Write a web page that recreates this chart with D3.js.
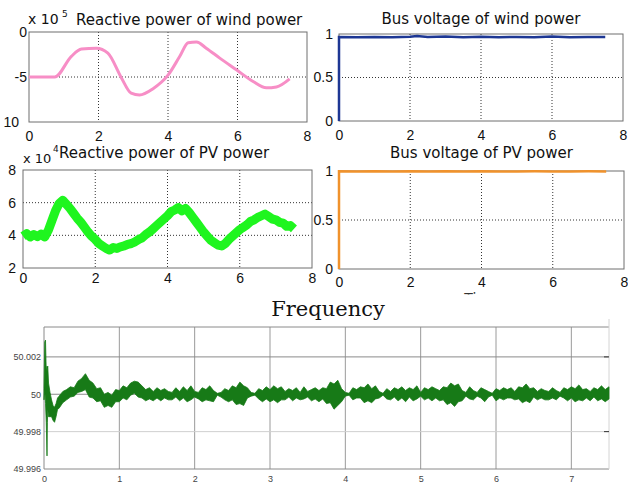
<!DOCTYPE html>
<html lang="en">
<head>
<meta charset="UTF-8">
<title>Wind / PV power and frequency</title>
<script src="https://d3js.org/d3.v7.min.js"></script>
<style>
  html, body { margin: 0; background: #fff; }
  svg { display: block; font-family: "DejaVu Sans", sans-serif; }
  .frame { fill: none; stroke: #6e6e6e; stroke-width: 1; }
  .dotgrid { stroke: #333; stroke-width: 1; stroke-dasharray: 1, 2; }
  .ml-axis text { font-size: 14px; fill: #111; }
  .fr-axis text { font-size: 9px; fill: #444; }
  .title { font-size: 15px; fill: #111; }
</style>
</head>
<body>
<svg id="chart" width="628" height="488"></svg>
<script>
// ---------- data ----------
// reactive power of wind power (x 10^5)
const windQTime = [0, 0.74, 1.22, 1.51, 1.94, 2.27, 2.66, 2.94, 3.18, 3.57, 4.0, 4.34, 4.58, 4.82, 5.1, 5.49, 5.97, 6.45, 6.83, 7.12, 7.5];
const windQ = [-5, -5, -2.7, -1.9, -1.8, -2.35, -5.1, -6.8, -7.0, -6.3, -4.8, -2.7, -1.2, -1.1, -1.8, -2.9, -4.2, -5.5, -6.2, -6.1, -5.2];

// bus voltage of wind power (p.u.)
const windBusTime = [0, 0, 0.5, 1, 1.5, 2, 2.2, 2.5, 3, 3.5, 4, 4.5, 5, 5.5, 6, 6.5, 7, 7.5];
const windBusV = [0, 0.965, 0.963, 0.966, 0.962, 0.968, 0.976, 0.966, 0.971, 0.964, 0.968, 0.962, 0.966, 0.964, 0.971, 0.963, 0.966, 0.965];

// reactive power of PV power (x 10^4), sampled every 0.1 s
const pvQStep = 0.1;
const pvQ = [3.95, 4.1, 3.9, 4.05, 3.92, 4.08, 3.9, 4.3, 4.9, 5.5,
             5.95, 6.15, 5.9, 5.65, 5.35, 5.05, 4.8, 4.5, 4.2, 3.95,
             3.75, 3.5, 3.35, 3.2, 3.1, 3.25, 3.2, 3.3, 3.35, 3.45,
             3.5, 3.6, 3.75, 3.85, 4.05, 4.2, 4.4, 4.6, 4.8, 5.0,
             5.2, 5.45, 5.55, 5.7, 5.5, 5.65, 5.4, 5.1, 4.8, 4.5,
             4.2, 3.95, 3.7, 3.55, 3.4, 3.35, 3.5, 3.75, 3.95, 4.15,
             4.35, 4.5, 4.65, 4.85, 4.95, 5.1, 5.2, 5.3, 5.15, 5.0,
             4.95, 4.8, 4.75, 4.55, 4.6, 4.4];

// bus voltage of PV power (p.u.)
const pvBusTime = [0, 0, 0.5, 1, 1.5, 2, 2.5, 3, 3.5, 4, 4.5, 5, 5.5, 6, 6.5, 7, 7.5];
const pvBusV = [0, 0.998, 0.996, 0.998, 0.995, 0.997, 0.994, 0.997, 0.995, 0.998, 0.994, 0.996, 0.997, 0.994, 0.996, 0.997, 0.996];

// frequency: upper / lower envelope of the noisy trace, deviation from 50 Hz in mHz
const freqEarlyTime = [0, 0.01, 0.02, 0.03, 0.04, 0.045, 0.05, 0.06, 0.08, 0.1, 0.12, 0.14, 0.16, 0.18];
const freqEarlyHi = [0.3, 2.8, 2.9, 1.2, 1.5, 1.4, 1.5, 0.6, 0.1, -0.3, -0.6, -0.7, -0.5, -0.2];
const freqEarlyLo = [-0.3, 0.3, -0.5, -1.5, -3.3, -1.5, -0.8, -1.2, -1.2, -1.2, -1.4, -1.5, -1.2, -0.8];
const freqStart = 0.2, freqStep = 0.05;
const freqHi = [-0.1, 0.15, 0.25, 0.4, 0.35, 0.7, 0.85, 1.1, 0.75, 0.6,
                0.3, 0.35, 0.0, 0.1, -0.05, 0.25, 0.2, 0.45, 0.35, 0.6,
                0.7, 0.65, 0.45, 0.25, 0.35, 0.15, 0.35, 0.2, 0.3, 0.15,
                0.1, 0.35, 0.15, 0.4, 0.2, 0.45, 0.15, 0.1, 0.35, 0.25,
                0.45, 0.2, 0.05, 0.1, 0.3, 0.2, 0.45, 0.35, 0.65, 0.45,
                0.35, 0.1, 0.05, 0.3, 0.2, 0.4, 0.25, 0.45, 0.3, 0.4,
                0.15, 0.3, 0.2, 0.35, 0.1, 0.4, 0.15, 0.25, 0.35, 0.2,
                0.35, 0.3, 0.65, 0.55, 0.75, 0.3, 0.1, 0.05, 0.35, 0.25,
                0.4, 0.35, 0.55, 0.3, 0.45, 0.15, 0.05, 0.3, 0.15, 0.35,
                0.25, 0.4, 0.2, 0.35, 0.25, 0.45, 0.1, 0.35, 0.25, 0.4,
                0.3, 0.2, 0.4, 0.35, 0.6, 0.45, 0.55, 0.2, 0.1, 0.4,
                0.2, 0.1, 0.35, 0.25, 0.15, 0.05, 0.3, 0.2, 0.35, 0.25,
                0.35, 0.15, 0.4, 0.35, 0.55, 0.3, 0.35, 0.15, 0.3, 0.2,
                0.15, 0.35, 0.2, 0.1, 0.35, 0.25, 0.4, 0.3, 0.5, 0.25,
                0.3, 0.15, 0.35, 0.25, 0.45, 0.25, 0.4];
const freqLo = [-0.75, -0.45, -0.3, -0.15, -0.1, 0.1, 0.15, 0.25, -0.15, -0.2,
                -0.4, -0.35, -0.7, -0.6, -0.7, -0.4, -0.4, -0.2, -0.3, -0.05,
                0.05, -0.15, -0.2, -0.35, -0.25, -0.35, -0.2, -0.35, -0.2, -0.3,
                -0.3, -0.15, -0.35, -0.2, -0.4, -0.3, -0.15, -0.25, -0.4, -0.3,
                -0.35, -0.4, -0.05, -0.15, -0.3, -0.4, -0.3, -0.55, -0.5, -0.6,
                -0.2, -0.1, -0.05, -0.25, -0.4, -0.25, -0.4, -0.3, -0.45, -0.3,
                -0.3, -0.15, -0.35, -0.2, -0.3, -0.25, -0.15, -0.35, -0.25, -0.4,
                -0.25, -0.5, -0.45, -0.8, -0.6, -0.4, -0.1, -0.05, -0.3, -0.2,
                -0.2, -0.45, -0.35, -0.45, -0.25, -0.2, -0.05, -0.25, -0.3, -0.15,
                -0.35, -0.2, -0.4, -0.15, -0.35, -0.25, -0.1, -0.3, -0.2, -0.35,
                -0.2, -0.35, -0.3, -0.55, -0.45, -0.65, -0.4, -0.35, -0.1, -0.25,
                -0.3, -0.1, -0.2, -0.4, -0.15, -0.05, -0.35, -0.2, -0.3, -0.2,
                -0.2, -0.3, -0.25, -0.45, -0.35, -0.45, -0.15, -0.3, -0.2, -0.3,
                -0.3, -0.2, -0.3, -0.1, -0.2, -0.35, -0.2, -0.4, -0.3, -0.35,
                -0.2, -0.35, -0.15, -0.35, -0.25, -0.4, -0.25];

const freqTicks = [49.996, 49.998, 50, 50.002];
const freqTickLabels = ["49.996", "49.998", "50", "50.002"];

// ---------- drawing ----------
const svg = d3.select("#chart");

// a small MATLAB-style subplot: dotted grid, grey frame, ticks labels outside
function matlabPanel(box, xDomain, yDomain, xTicks, yTicks, xGrid, yGrid, xPad, yPad, yFormat) {
    const x = d3.scaleLinear().domain(xDomain).range([box.left, box.right]);
    const y = d3.scaleLinear().domain(yDomain).range([box.bottom, box.top]);
    const g = svg.append("g");

    g.selectAll(".vgrid").data(xGrid).join("line")
        .attr("class", "dotgrid")
        .attr("x1", d => x(d)).attr("x2", d => x(d))
        .attr("y1", box.top).attr("y2", box.bottom);
    g.selectAll(".hgrid").data(yGrid).join("line")
        .attr("class", "dotgrid")
        .attr("x1", box.left).attr("x2", box.right)
        .attr("y1", d => y(d)).attr("y2", d => y(d));

    const xa = g.append("g").attr("class", "ml-axis")
        .attr("transform", `translate(0,${box.bottom})`)
        .call(d3.axisBottom(x).tickValues(xTicks).tickSize(0).tickPadding(xPad).tickFormat(d => String(d)));
    const ya = g.append("g").attr("class", "ml-axis")
        .attr("transform", `translate(${box.left},0)`)
        .call(d3.axisLeft(y).tickValues(yTicks).tickSize(0).tickPadding(yPad).tickFormat(yFormat || (d => String(d))));
    xa.select(".domain").remove();
    ya.select(".domain").remove();
    xa.selectAll("text").attr("font-family", null);
    ya.selectAll("text").attr("font-family", null);

    return { x, y, g, ya };
}

function frame(p, box) {
    p.g.append("rect").attr("class", "frame")
        .attr("x", box.left).attr("y", box.top)
        .attr("width", box.right - box.left).attr("height", box.bottom - box.top);
}

// --- reactive power of wind power ---
const box1 = { left: 29, right: 307, top: 32, bottom: 122 };
const p1 = matlabPanel(box1, [0, 8], [-10, 0], [0, 2, 4, 6, 8], [-10, -5, 0], [2, 4, 6], [-5], 9, 2,
    d => d === -10 ? "10" : String(d));
p1.ya.selectAll(".tick").filter(d => d === -10).select("text").attr("dx", -8);
frame(p1, box1);
p1.g.append("path")
    .datum(windQ)
    .attr("fill", "none")
    .attr("stroke", "#f78ec6")
    .attr("stroke-width", 3)
    .attr("stroke-linejoin", "round")
    .attr("d", d3.line().x((d, i) => p1.x(windQTime[i])).y(d => p1.y(d)).curve(d3.curveMonotoneX));

// --- bus voltage of wind power ---
const box2 = { left: 339, right: 623, top: 34, bottom: 121 };
const p2 = matlabPanel(box2, [0, 8], [0, 1], [0, 2, 4, 6, 8], [0, 0.5, 1], [2, 4, 6], [0.5], 9, 6);
frame(p2, box2);
p2.g.append("path")
    .datum(windBusV)
    .attr("fill", "none")
    .attr("stroke", "#1d3794")
    .attr("stroke-width", 2.5)
    .attr("d", d3.line().x((d, i) => p2.x(windBusTime[i])).y(d => p2.y(d)));

// --- reactive power of PV power ---
const box3 = { left: 23, right: 312, top: 170, bottom: 268 };
const p3 = matlabPanel(box3, [0, 8], [2, 8], [0, 2, 4, 6, 8], [2, 4, 6, 8], [2, 4, 6], [4, 6], 5, 7);
frame(p3, box3);
p3.g.append("path")
    .datum(pvQ)
    .attr("fill", "none")
    .attr("stroke", "#1ff51f")
    .attr("stroke-width", 9)
    .attr("stroke-linejoin", "round")
    .attr("d", d3.line().x((d, i) => p3.x(i * pvQStep)).y(d => p3.y(d)));

// --- bus voltage of PV power ---
const box4 = { left: 339, right: 624, top: 171, bottom: 269 };
const p4 = matlabPanel(box4, [0, 8], [0, 1], [0, 2, 4, 6, 8], [0, 0.5, 1], [2, 4, 6], [0.5], 8, 6);
frame(p4, box4);
p4.g.append("path")
    .datum(pvBusV)
    .attr("fill", "none")
    .attr("stroke", "#f0922c")
    .attr("stroke-width", 2.5)
    .attr("d", d3.line().x((d, i) => p4.x(pvBusTime[i])).y(d => p4.y(d)));

// titles of the four subplots
const t1 = svg.append("text").attr("class", "title").attr("x", 28).attr("y", 24);
t1.append("tspan").attr("font-size", 14).text("x 10");
t1.append("tspan").attr("font-size", 9).attr("x", 62).attr("y", 17).text("5");
t1.append("tspan").attr("x", 76).attr("y", 25).text("Reactive power of wind power");

svg.append("text").attr("class", "title").attr("x", (box2.left + box2.right) / 2).attr("y", 24)
    .attr("text-anchor", "middle").text("Bus voltage of wind power");

const t3 = svg.append("text").attr("class", "title").attr("x", 23).attr("y", 163);
t3.append("tspan").attr("font-size", 13).text("x 10");
t3.append("tspan").attr("font-size", 9).attr("x", 53).attr("y", 152).text("4");
t3.append("tspan").attr("x", 59).attr("y", 158).text("Reactive power of PV power");

svg.append("text").attr("class", "title").attr("x", (box4.left + box4.right) / 2).attr("y", 158)
    .attr("text-anchor", "middle").text("Bus voltage of PV power");

// x label of the PV voltage subplot, mostly hidden under the frequency plot
svg.append("clipPath").attr("id", "timeclip")
    .append("rect").attr("x", 440).attr("y", 280).attr("width", 80).attr("height", 14.5);
svg.append("text")
    .attr("clip-path", "url(#timeclip)")
    .attr("x", (box4.left + box4.right) / 2).attr("y", 303)
    .attr("text-anchor", "middle")
    .attr("font-size", 14).attr("fill", "#333")
    .text("Time");

// --- frequency ---
const box5 = { left: 44, right: 609, top: 327, bottom: 469 };
const fx = d3.scaleLinear().domain([0, 7.5]).range([box5.left, box5.right]);
const fy = d3.scaleLinear().domain([49.996, 50.0036]).range([box5.bottom, box5.top]);
const fg = svg.append("g");

fg.selectAll(".fv").data([1, 2, 3, 4, 5, 6, 7]).join("line")
    .attr("x1", d => fx(d)).attr("x2", d => fx(d))
    .attr("y1", box5.top).attr("y2", box5.bottom)
    .attr("stroke", "#9a9a9a");
fg.selectAll(".fh").data([50.002, 50, 49.998]).join("line")
    .attr("x1", box5.left).attr("x2", box5.right)
    .attr("y1", d => fy(d)).attr("y2", d => fy(d))
    .attr("stroke", d => d === 49.998 ? "#cfcfcf" : "#8a8a8a");
fg.append("line").attr("x1", box5.left).attr("x2", box5.right).attr("y1", box5.top).attr("y2", box5.top).attr("stroke", "#8a8a8a");
fg.append("line").attr("x1", box5.left).attr("x2", box5.right).attr("y1", box5.bottom).attr("y2", box5.bottom).attr("stroke", "#8a8a8a");
fg.append("line").attr("x1", box5.left).attr("x2", box5.left).attr("y1", box5.top).attr("y2", box5.bottom).attr("stroke", "#8a8a8a");
fg.append("line").attr("x1", box5.right).attr("x2", box5.right).attr("y1", box5.top - 8).attr("y2", box5.bottom).attr("stroke", "#d4d4d4");
fg.selectAll(".rtick").data([50.002, 49.998]).join("line")
    .attr("x1", box5.right - 5).attr("x2", box5.right)
    .attr("y1", d => fy(d)).attr("y2", d => fy(d))
    .attr("stroke", "#333");

const freqTime = freqEarlyTime.concat(freqHi.map((d, i) => freqStart + i * freqStep));
const freqUpper = freqEarlyHi.concat(freqHi);
const freqLower = freqEarlyLo.concat(freqLo);

fg.append("path")
    .datum(freqTime)
    .attr("fill", "#177a17")
    .attr("stroke", "#177a17")
    .attr("stroke-width", 0.8)
    .attr("d", d3.area()
        .x(t => fx(t))
        .y0((t, i) => fy(50 + freqLower[i] / 1000))
        .y1((t, i) => fy(50 + freqUpper[i] / 1000)));

const fxa = fg.append("g").attr("class", "fr-axis")
    .attr("transform", `translate(0,${box5.bottom})`)
    .call(d3.axisBottom(fx).tickValues([0, 1, 2, 3, 4, 5, 6, 7]).tickSize(0).tickPadding(7).tickFormat(d => String(d)));
const fya = fg.append("g").attr("class", "fr-axis")
    .attr("transform", `translate(${box5.left},0)`)
    .call(d3.axisLeft(fy).tickValues(freqTicks).tickSize(0).tickPadding(3).tickFormat((d, i) => freqTickLabels[i]));
fxa.select(".domain").remove();
fya.select(".domain").remove();
fxa.selectAll("text").attr("font-family", null);
fya.selectAll("text").attr("font-family", null);

svg.append("text")
    .attr("x", 328).attr("y", 316)
    .attr("text-anchor", "middle")
    .attr("font-family", "DejaVu Serif, serif")
    .attr("font-size", 21)
    .attr("fill", "#111")
    .text("Frequency");
</script>
</body>
</html>
